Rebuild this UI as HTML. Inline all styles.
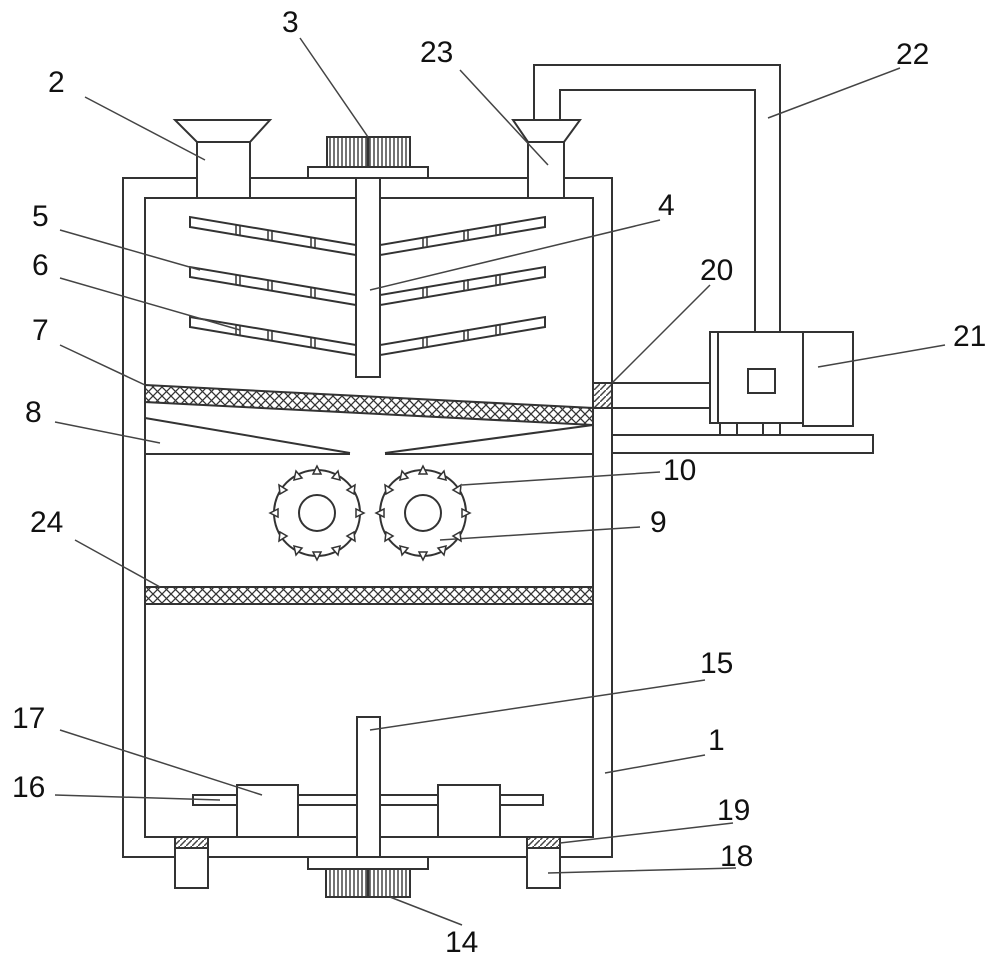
<!DOCTYPE html>
<html><head><meta charset="utf-8"><style>html,body{margin:0;padding:0;background:#fff}svg{display:block}</style></head><body>
<svg width="1000" height="961" viewBox="0 0 1000 961" xmlns="http://www.w3.org/2000/svg">
<defs>
<pattern id="xh" width="9" height="9" patternUnits="userSpaceOnUse">
<path d="M0 0L9 9M9 0L0 9" stroke="#333" stroke-width="1.3"/>
</pattern>
<pattern id="dh" width="6" height="6" patternUnits="userSpaceOnUse">
<path d="M0 6L6 0" stroke="#444" stroke-width="1.5"/>
</pattern>
<pattern id="gear" width="4" height="10" patternUnits="userSpaceOnUse">
<rect width="4" height="10" fill="#fff"/><path d="M2 0V10" stroke="#444" stroke-width="1.5"/>
</pattern>
</defs>
<g fill="none" stroke="#333" stroke-width="2">
<!-- body -->
<rect x="123" y="178" width="489" height="679" fill="#fff"/>
<rect x="145" y="198" width="448" height="639"/>
<!-- hopper 2 -->
<rect x="197" y="142" width="53" height="56" fill="#fff"/>
<path d="M175 120H270L250 142H197Z" fill="#fff"/>
<!-- hopper 23 -->
<path d="M534 142V65H780V332M560 142V90H755V332"/>
<rect x="528" y="142" width="36" height="56" fill="#fff"/>
<path d="M513 120H580L564 142H528Z" fill="#fff"/>
<!-- motor 3 -->
<rect x="308" y="167" width="120" height="11" fill="#fff"/>
<rect x="327" y="137" width="83" height="30" fill="url(#gear)"/>
<path d="M368 137V167" stroke-width="2.5"/>
<rect x="356" y="178" width="24" height="199" fill="#fff"/>
<!-- blades -->
<g>
<path d="M356 245L190 217V227L356 255M380 245L545 217V227L380 255"/>
<path d="M356 295L190 267V277L356 305M380 295L545 267V277L380 305"/>
<path d="M356 345L190 317V327L356 355M380 345L545 317V327L380 355"/>
<path d="M236 225v10M240 226v10M268 230v10M272 231v10M311 237v10M315 238v10M423 237v10M427 236v10M464 230v10M468 229v10M496 225v10M500 224v10" stroke-width="1.5"/>
<path d="M236 275v10M240 276v10M268 280v10M272 281v10M311 287v10M315 288v10M423 287v10M427 286v10M464 280v10M468 279v10M496 275v10M500 274v10" stroke-width="1.5"/>
<path d="M236 325v10M240 326v10M268 330v10M272 331v10M311 337v10M315 338v10M423 337v10M427 336v10M464 330v10M468 329v10M496 325v10M500 324v10" stroke-width="1.5"/>
</g>
<!-- screen 7 -->
<path d="M145 385L593 408V425L145 402Z" fill="url(#xh)"/>
<!-- 20 + pipe -->
<rect x="593" y="383" width="19" height="25" fill="url(#dh)"/>
<path d="M612 383H710M612 408H710"/>
<!-- motor 21 -->
<rect x="710" y="332" width="93" height="91" fill="#fff"/>
<path d="M718 332V423"/>
<rect x="803" y="332" width="50" height="94" fill="#fff"/>
<rect x="748" y="369" width="27" height="24"/>
<path d="M720 423V435M737 423V435M763 423V435M780 423V435"/>
<rect x="612" y="435" width="261" height="18" fill="#fff"/>
<!-- plate 8 -->
<path d="M145 418L350 453M593 425L385 453M145 454H350M385 454H593"/>
<!-- screen 24 -->
<rect x="145" y="587" width="448" height="17" fill="url(#xh)"/>
<!-- bottom -->
<rect x="193" y="795" width="350" height="10" fill="#fff"/>
<rect x="237" y="785" width="61" height="52" fill="#fff"/>
<rect x="438" y="785" width="62" height="52" fill="#fff"/>
<rect x="357" y="717" width="23" height="140" fill="#fff"/>
<rect x="175" y="837" width="33" height="11" fill="url(#dh)"/>
<rect x="175" y="848" width="33" height="40" fill="#fff"/>
<rect x="527" y="837" width="33" height="11" fill="url(#dh)"/>
<rect x="527" y="848" width="33" height="40" fill="#fff"/>
<rect x="308" y="857" width="120" height="12" fill="#fff"/>
<rect x="326" y="869" width="84" height="28" fill="url(#gear)"/>
<path d="M368 869V897" stroke-width="2.5"/>
<!-- gears -->
<g id="g1">
<circle cx="317" cy="513" r="43" fill="#fff"/>
<circle cx="317" cy="513" r="18"/>
</g>
<circle cx="423" cy="513" r="43" fill="#fff"/>
<circle cx="423" cy="513" r="18"/>
</g>
<g fill="#555" id="teeth"></g>
<!-- leader lines -->
<g stroke="#444" stroke-width="1.5">
<path d="M85 97L205 160M300 38L368 137M460 70L548 165M900 68L768 118M60 230L200 270M60 278L240 330M660 220L370 290M60 345L145 385M710 285L612 383M945 345L818 367M55 422L160 443M660 472L462 485M640 527L440 540M75 540L160 587M705 680L370 730M705 755L605 773M60 730L262 795M55 795L220 800M733 823L560 843M736 868L548 873M462 925L390 897"/>
</g>
<g font-family="Liberation Sans, sans-serif" font-size="30" fill="#111">
<text x="48" y="92">2</text><text x="282" y="32">3</text><text x="420" y="62">23</text><text x="896" y="64">22</text>
<text x="32" y="226">5</text><text x="658" y="215">4</text><text x="32" y="275">6</text><text x="700" y="280">20</text>
<text x="953" y="346">21</text><text x="32" y="340">7</text><text x="25" y="422">8</text><text x="663" y="480">10</text>
<text x="650" y="532">9</text><text x="30" y="532">24</text><text x="700" y="673">15</text><text x="708" y="750">1</text>
<text x="12" y="728">17</text><text x="12" y="797">16</text><text x="717" y="820">19</text><text x="720" y="866">18</text>
<text x="445" y="952">14</text>
</g>
<g fill="#fff" stroke="#333" stroke-width="1.5">
<polygon points="317,466 313,474 321,474"/>
<polygon points="296,471 294,480 302,478"/>
<polygon points="338,471 340,480 332,478"/>
<polygon points="279,485 280,494 287,490"/>
<polygon points="355,485 354,494 347,490"/>
<polygon points="270,513 278,509 278,517"/>
<polygon points="364,513 356,509 356,517"/>
<polygon points="279,541 280,532 287,536"/>
<polygon points="355,541 354,532 347,536"/>
<polygon points="296,555 294,546 302,548"/>
<polygon points="338,555 340,546 332,548"/>
<polygon points="317,560 313,552 321,552"/>
<polygon points="423,466 419,474 427,474"/>
<polygon points="402,471 400,480 408,478"/>
<polygon points="444,471 446,480 438,478"/>
<polygon points="385,485 386,494 393,490"/>
<polygon points="461,485 460,494 453,490"/>
<polygon points="376,513 384,509 384,517"/>
<polygon points="470,513 462,509 462,517"/>
<polygon points="385,541 386,532 393,536"/>
<polygon points="461,541 460,532 453,536"/>
<polygon points="402,555 400,546 408,548"/>
<polygon points="444,555 446,546 438,548"/>
<polygon points="423,560 419,552 427,552"/>
</g>
</svg>
</body></html>
